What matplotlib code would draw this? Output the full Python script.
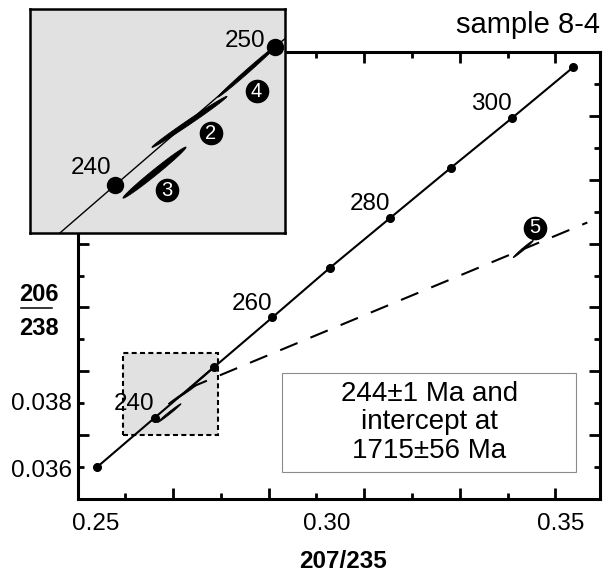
import numpy as np
import matplotlib.pyplot as plt
from matplotlib.patches import Rectangle
from matplotlib.lines import Line2D

plt.rcParams['font.family'] = ['Liberation Sans', 'DejaVu Sans']

# Concordia points (age in Ma, 207Pb/235U, 206Pb/238U)
ages = [230, 240, 250, 260, 270, 280, 290, 300, 310]
r207_235 = [0.2541, 0.2662, 0.2785, 0.2908, 0.3029, 0.3155, 0.3282, 0.3410, 0.3538]
r206_238 = [0.0360, 0.03755, 0.03912, 0.04069, 0.04225, 0.04381, 0.04538, 0.04694, 0.04853]
labelled_ages = [240, 260, 280, 300]

# Discordia: lower intercept on the concordia, heading to the 1715 Ma intercept
discordia_x = [0.27346, 0.3567]
discordia_y = [0.03848, 0.04366]

# Analysed spots: error ellipse centre, half long axis and thinness
spot_ids = ['2', '3', '4', '5']
spot_x = [0.27192, 0.26922, 0.27640, 0.34330]
spot_y = [0.03827, 0.03769, 0.03885, 0.04283]
spot_hx = [0.002897, 0.002433, 0.002279, 0.00209]
spot_hy = [0.000291, 0.000291, 0.000297, 0.000266]
spot_ratio = [0.05, 0.07, 0.045, 0.08]
spot_label_x = [0.27358, 0.27018, 0.27710, 0.34575]
spot_label_y = [0.03814, 0.03749, 0.03862, 0.0435]

# Enlarged window
zoom_x = (0.2596, 0.2793)
zoom_y = (0.0370, 0.03956)

# Axis ticks
x_long = [0.27, 0.29, 0.31, 0.33, 0.35]
x_short = [0.26, 0.28, 0.30, 0.32, 0.34]
y_long = [0.037, 0.039, 0.041, 0.043, 0.045, 0.047]
y_short = [0.036, 0.038, 0.040, 0.042, 0.044, 0.046, 0.048]
x_tick_labels = ['0.25', '0.30', '0.35']
x_label_at = [0.2539, 0.3022, 0.3511]
y_tick_labels = ['0.036', '0.038']
y_label_at = [0.03569, 0.03778]

W, H = 604, 573
fig = plt.figure(figsize=(W / 100, H / 100), dpi=100)
ax = fig.add_axes([77.5 / W, 74 / H, 522.5 / W, 447 / H])
ax.set_xlim(0.25, 0.35935)
ax.set_ylim(0.035, 0.049)

for s in ax.spines.values():
    s.set_linewidth(2.2)
ax.set_xticks(x_long)
ax.set_xticks(x_short, minor=True)
ax.set_yticks(y_long)
ax.set_yticks(y_short, minor=True)
ax.tick_params(which='both', direction='in', top=True, right=True, width=2,
               labelbottom=False, labelleft=False)
ax.tick_params(which='major', length=8)
ax.tick_params(which='minor', length=4)

for lab, xv in zip(x_tick_labels, x_label_at):
    ax.text(xv, -0.0694, lab, transform=ax.get_xaxis_transform(),
            ha='center', va='baseline', fontsize=17.5)
for lab, yv in zip(y_tick_labels, y_label_at):
    ax.text(-0.0105, yv, lab, transform=ax.get_yaxis_transform(),
            ha='right', va='baseline', fontsize=17.5)

ax.text(0.508, -0.1544, '207/235', transform=ax.transAxes, ha='center',
        va='baseline', fontsize=17.5, fontweight='bold')
fig.text(39 / W, 1 - 300.7 / H, '206', ha='center', va='baseline',
         fontsize=17, fontweight='bold')
fig.text(39 / W, 1 - 335 / H, '238', ha='center', va='baseline',
         fontsize=17, fontweight='bold')
fig.add_artist(Line2D([20.7 / W, 51.7 / W], [1 - 308.3 / H, 1 - 308.3 / H],
                      color='black', lw=1.1))
fig.text(600 / W, 1 - 33.3 / H, 'sample 8-4', ha='right', va='baseline',
         fontsize=21)

# screen aspect of the data units, used to keep ellipse widths perpendicular
k = (447 / (0.049 - 0.035)) / (522.5 / (0.35935 - 0.25))


def ellipse_outline(cx, cy, hx, hy, ratio):
    t = np.linspace(0, 2 * np.pi, 150)
    px, py = -hy * k * ratio, hx * ratio / k
    return (cx + hx * np.cos(t) + px * np.sin(t),
            cy + hy * np.cos(t) + py * np.sin(t))


# main diagram
ax.add_patch(Rectangle((zoom_x[0], zoom_y[0]), zoom_x[1] - zoom_x[0],
                       zoom_y[1] - zoom_y[0], facecolor='#e1e1e1',
                       edgecolor='black', lw=1.5, ls=(0, (2.4, 1.6)), zorder=1))
ax.add_patch(Rectangle((0.29286, 0.03584), 0.06154, 0.0031, facecolor='white',
                       edgecolor='#8c8c8c', lw=0.8, zorder=2))
ax.text(0.32363, 0.0374, '244±1 Ma and\nintercept at\n1715±56 Ma',
        ha='center', va='center', fontsize=20, linespacing=1.12, zorder=3)

ax.plot(discordia_x, discordia_y, color='black', lw=1.5, dashes=(9, 6.7),
        zorder=3)
ax.plot(r207_235, r206_238, '-o', color='black', lw=1.5, ms=5.5, zorder=4)
for age in labelled_ages:
    i = ages.index(age)
    ax.annotate(str(age), (r207_235[i], r206_238[i]), xytext=(-14.8, 5.3),
                textcoords='offset points', ha='center', va='baseline',
                fontsize=17.5, zorder=5)

# inset with the enlarged window
axi = fig.add_axes([30 / W, (H - 233) / H, 255 / W, 224 / H])
axi.set_xlim(zoom_x)
axi.set_ylim(zoom_y)
axi.set_facecolor('#e1e1e1')
axi.set_xticks([])
axi.set_yticks([])
for s in axi.spines.values():
    s.set_linewidth(1.8)
axi.plot(r207_235, r206_238, color='black', lw=1.0, zorder=3)
for age, dx, dy in [(240, -17.3, 7.8), (250, -21.6, 0)]:
    i = ages.index(age)
    axi.plot(r207_235[i], r206_238[i], 'o', color='black', ms=11.5,
             clip_on=False, zorder=5)
    axi.annotate(str(age), (r207_235[i], r206_238[i]), xytext=(dx, dy),
                 textcoords='offset points', ha='center', va='baseline',
                 fontsize=17.5)

for sid, cx, cy, hx, hy, rt, lx, ly in zip(spot_ids, spot_x, spot_y, spot_hx,
                                           spot_hy, spot_ratio, spot_label_x,
                                           spot_label_y):
    ex, ey = ellipse_outline(cx, cy, hx, hy, rt)
    ax.fill(ex, ey, facecolor='black', edgecolor='black', lw=0.6, zorder=4)
    axi.fill(ex, ey, facecolor='black', edgecolor='black', lw=0.6, zorder=4)
    in_zoom = zoom_x[0] < cx < zoom_x[1] and zoom_y[0] < cy < zoom_y[1]
    target = axi if in_zoom else ax
    target.plot(lx, ly, 'o', color='black', ms=16, zorder=6)
    target.text(lx, ly, sid, color='white', ha='center', va='center',
                fontsize=14.5, zorder=7)

fig.savefig('out.png', dpi=100)
